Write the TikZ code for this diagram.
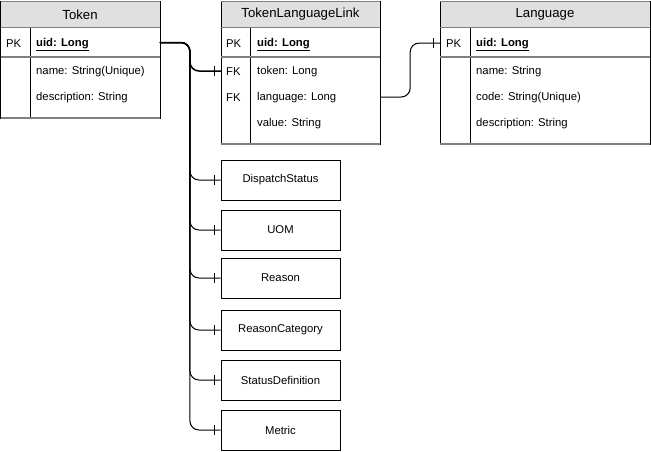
\documentclass[tikz,border=0pt]{standalone}
\usepackage{fontspec}
\setmainfont{Liberation Sans}
\definecolor{hdrgray}{HTML}{E0E0E0}
\definecolor{linegray}{HTML}{808080}
\begin{document}
\begin{tikzpicture}[x=1pt,y=-1pt,
  ftxt/.style={font=\fontsize{11.3}{13}\selectfont, anchor=west, inner sep=0pt, yshift=-1pt},
  htxt/.style={font=\fontsize{13.2}{15}\selectfont, inner sep=0pt},
  rowbox/.style={inner sep=0pt, minimum height=26pt},
  smallbox/.style={draw=black, line width=1pt, minimum width=119pt, minimum height=40pt, inner sep=0pt, font=\fontsize{11.3}{13}\selectfont},
  edgeline/.style={draw=black, line width=1pt},
  sepline/.style={draw=linegray, line width=1.5pt},
  thinsep/.style={draw=linegray, line width=1pt},
  conn/.style={draw=black, line width=1pt, rounded corners=9pt},
  tickmark/.style={draw=black, line width=1pt},
  pkfield/.style={ftxt, font=\fontsize{11.3}{13}\selectfont\bfseries}
]
\useasboundingbox (0,0) rectangle (651,451);

% ---------- Token table ----------
\fill[hdrgray] (0.5,1) rectangle (160,27);
\draw[edgeline] (0.5,1) rectangle (160,118);
\draw[edgeline] (30,27) -- (30,118);
\draw[thinsep] (0.5,1) -- (160,1);
\draw[thinsep] (0.5,27) -- (160,27);
\draw[sepline] (0.5,57) -- (160,57);
\draw[sepline] (0.5,118) -- (160,118);
\node[htxt] (tok-title) at (80,14.5) {Token};
\node[rowbox, minimum width=159pt] (tok-uid) at (80.25,42.5) {};
\node[ftxt] (tok-pk) at (6,43) {PK};
\node[pkfield] (tok-uidt) at (36,44) {\underline{uid: Long}};
\node[ftxt] (tok-name) at (36,71) {name: String(Unique)};
\node[ftxt] (tok-desc) at (36,97) {description: String};

% ---------- TokenLanguageLink table ----------
\fill[hdrgray] (221,1) rectangle (380,27);
\draw[edgeline] (221,1) rectangle (380,144);
\draw[edgeline] (250,27) -- (250,144);
\draw[thinsep] (221,1) -- (380,1);
\draw[thinsep] (221,27) -- (380,27);
\draw[sepline] (221,57) -- (380,57);
\draw[sepline] (221,144) -- (380,144);
\node[htxt] (tll-title) at (300.5,14.5) {TokenLanguageLink};
\node[ftxt] (tll-pk) at (226,43) {PK};
\node[pkfield] (tll-uidt) at (257,44) {\underline{uid: Long}};
\node[rowbox, minimum width=159pt] (tll-token) at (300.5,71) {};
\node[ftxt] (tll-fk1) at (226,71) {FK};
\node[ftxt] (tll-tokt) at (257,71) {token: Long};
\node[rowbox, minimum width=159pt] (tll-lang) at (300.5,97) {};
\node[ftxt] (tll-fk2) at (226,97) {FK};
\node[ftxt] (tll-langt) at (257,97) {language: Long};
\node[ftxt] (tll-val) at (257,123) {value: String};

% ---------- Language table ----------
\fill[hdrgray] (440,1) rectangle (650,27);
\draw[edgeline] (440,1) rectangle (650,144);
\draw[edgeline] (470,27) -- (470,144);
\draw[thinsep] (440,1) -- (650,1);
\draw[thinsep] (440,27) -- (650,27);
\draw[sepline] (440,57) -- (650,57);
\draw[sepline] (440,144) -- (650,144);
\node[htxt] (lang-title) at (545,14.5) {Language};
\node[rowbox, minimum width=210pt] (lang-uid) at (545,43) {};
\node[ftxt] (lang-pk) at (446,43) {PK};
\node[pkfield] (lang-uidt) at (476,44) {\underline{uid: Long}};
\node[ftxt] (lang-name) at (476,71) {name: String};
\node[ftxt] (lang-code) at (476,97) {code: String(Unique)};
\node[ftxt] (lang-desc) at (476,123) {description: String};

% ---------- small entity boxes ----------
\node[smallbox] (ds) at (280.5,180) {DispatchStatus};
\node[smallbox] (uom) at (280.5,230) {UOM};
\node[smallbox] (reason) at (280.5,278) {Reason};
\node[smallbox] (rcat) at (280.5,330) {ReasonCategory};
\node[smallbox] (sdef) at (280.5,380) {StatusDefinition};
\node[smallbox] (metric) at (280.5,430) {Metric};

% ---------- connectors ----------
\foreach \t in {metric,sdef,rcat,reason,uom,ds}{
  \draw[conn] (tok-uid.east) -- ++(30,0) |- (\t.west);
  \draw[tickmark] ([xshift=-6pt]\t.west) +(0,-5) -- +(0,5);
}
\draw[conn, line width=1.5pt] (tok-uid.east) -- ++(30,0) |- (tll-token.west);
\draw[tickmark] ([xshift=-6pt]tll-token.west) +(0,-5) -- +(0,5);

\draw[conn] (tll-lang.east) -- ++(30,0) |- (lang-uid.west);
\draw[tickmark] ([xshift=-6pt]lang-uid.west) +(0,-5) -- +(0,5);
\end{tikzpicture}
\end{document}
